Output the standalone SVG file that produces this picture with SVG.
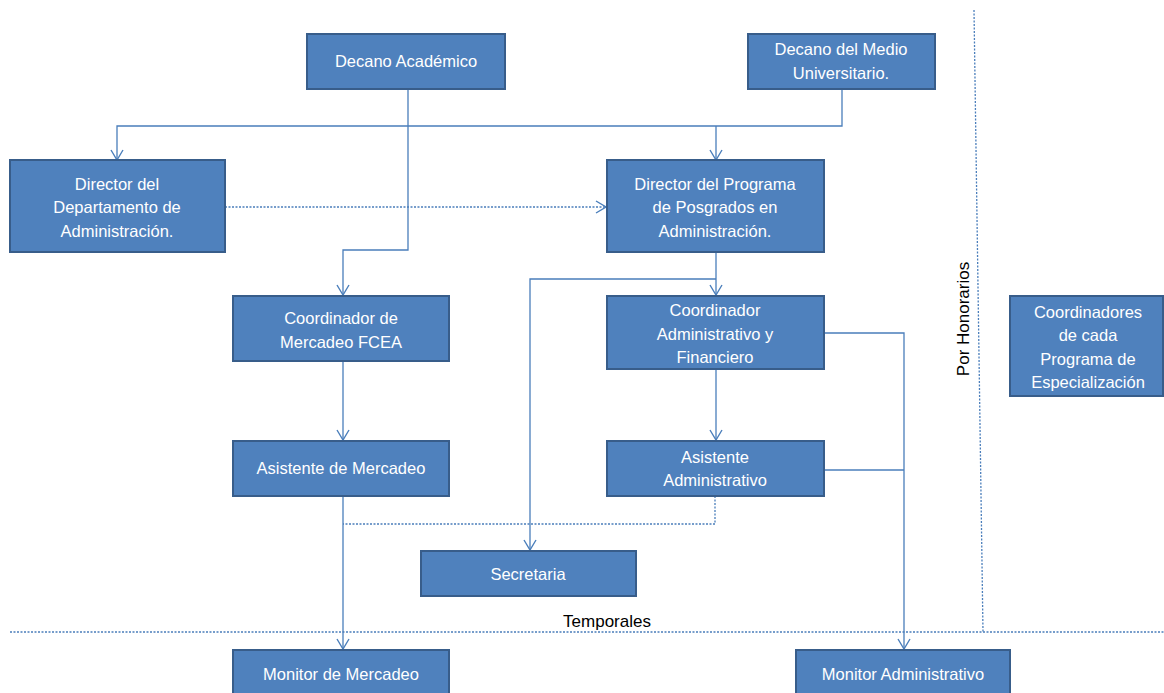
<svg xmlns="http://www.w3.org/2000/svg" width="1164" height="693" viewBox="0 0 1164 693">
<style>
.box{fill:#4F81BD;stroke:#385D8A;stroke-width:2}
.t{font-family:"Liberation Sans",Arial,sans-serif;font-size:16.5px;fill:#FFFFFF;text-anchor:middle}
.lbl{font-family:"Liberation Sans",Arial,sans-serif;font-size:17px;fill:#000000;text-anchor:middle}
.c{fill:none;stroke:#4A7EBB;stroke-width:1.3}
.d{fill:none;stroke:#4A7EBB;stroke-width:1.3;stroke-dasharray:2 1.5}
</style>
<defs>
<marker id="ah" markerUnits="userSpaceOnUse" markerWidth="12" markerHeight="14" viewBox="0 0 12 14" refX="11" refY="7" orient="auto">
<path d="M1,1 L11,7 L1,13" fill="none" stroke="#4A7EBB" stroke-width="1.4"/>
</marker>
</defs>
<rect width="1164" height="693" fill="#FFFFFF"/>
<g id="connectors">
<path class="c" d="M842,89 V126 H117 V160" marker-end="url(#ah)"/>
<path class="c" d="M716,126 V160" marker-end="url(#ah)"/>
<path class="c" d="M408,89 V250 H343 V295" marker-end="url(#ah)"/>
<path class="d" d="M225,207 H606" marker-end="url(#ah)"/>
<path class="c" d="M716,252 V295" marker-end="url(#ah)"/>
<path class="c" d="M716,279 H530 V550" marker-end="url(#ah)"/>
<path class="c" d="M716,369 V440" marker-end="url(#ah)"/>
<path class="c" d="M343,361 V440" marker-end="url(#ah)"/>
<path class="c" d="M343,496 V649" marker-end="url(#ah)"/>
<path class="d" d="M715,496 V524 H343"/>
<path class="c" d="M824,333 H904 V649" marker-end="url(#ah)"/>
<path class="c" d="M824,470 H904"/>
<path class="d" d="M10,632 H1164"/>
<path class="d" d="M974,10 L983,632"/>
</g>
<g id="n-decano-academico"><rect class="box" x="307" y="34" width="198" height="55"/><text class="t" x="406" y="67">Decano Académico</text></g>
<g id="n-decano-medio"><rect class="box" x="748" y="34" width="187" height="55"/><text class="t" x="841" y="55">Decano del Medio</text><text class="t" x="841" y="79">Universitario.</text></g>
<g id="n-director-depto"><rect class="box" x="10" y="160" width="215" height="92"/><text class="t" x="117" y="190">Director del</text><text class="t" x="117" y="213">Departamento de</text><text class="t" x="117" y="237">Administración.</text></g>
<g id="n-director-programa"><rect class="box" x="607" y="160" width="217" height="92"/><text class="t" x="715" y="190">Director del Programa</text><text class="t" x="715" y="213">de Posgrados  en</text><text class="t" x="715" y="237">Administración.</text></g>
<g id="n-coord-mercadeo"><rect class="box" x="233" y="296" width="216" height="65"/><text class="t" x="341" y="324">Coordinador  de</text><text class="t" x="341" y="348">Mercadeo FCEA</text></g>
<g id="n-coord-admin"><rect class="box" x="607" y="296" width="217" height="73"/><text class="t" x="715" y="316">Coordinador</text><text class="t" x="715" y="340">Administrativo y</text><text class="t" x="715" y="363">Financiero</text></g>
<g id="n-asist-mercadeo"><rect class="box" x="233" y="441" width="216" height="55"/><text class="t" x="341" y="474">Asistente de Mercadeo</text></g>
<g id="n-asist-admin"><rect class="box" x="607" y="441" width="217" height="55"/><text class="t" x="715" y="463">Asistente</text><text class="t" x="715" y="486">Administrativo</text></g>
<g id="n-secretaria"><rect class="box" x="421" y="551" width="215" height="45"/><text class="t" x="528" y="580">Secretaria</text></g>
<g id="n-monitor-mercadeo"><rect class="box" x="233" y="650" width="216" height="50"/><text class="t" x="341" y="680">Monitor de Mercadeo</text></g>
<g id="n-monitor-admin"><rect class="box" x="796" y="650" width="214" height="50"/><text class="t" x="903" y="680">Monitor Administrativo</text></g>
<g id="n-coordinadores"><rect class="box" x="1010" y="296" width="153" height="100"/><text class="t" x="1088" y="318">Coordinadores</text><text class="t" x="1088" y="341">de cada</text><text class="t" x="1088" y="365">Programa de</text><text class="t" x="1088" y="388">Especialización</text></g>
<g id="labels">
<text class="lbl" x="607" y="627">Temporales</text>
<text class="lbl" transform="translate(969,319) rotate(-90)">Por Honorarios</text>
</g>
</svg>
